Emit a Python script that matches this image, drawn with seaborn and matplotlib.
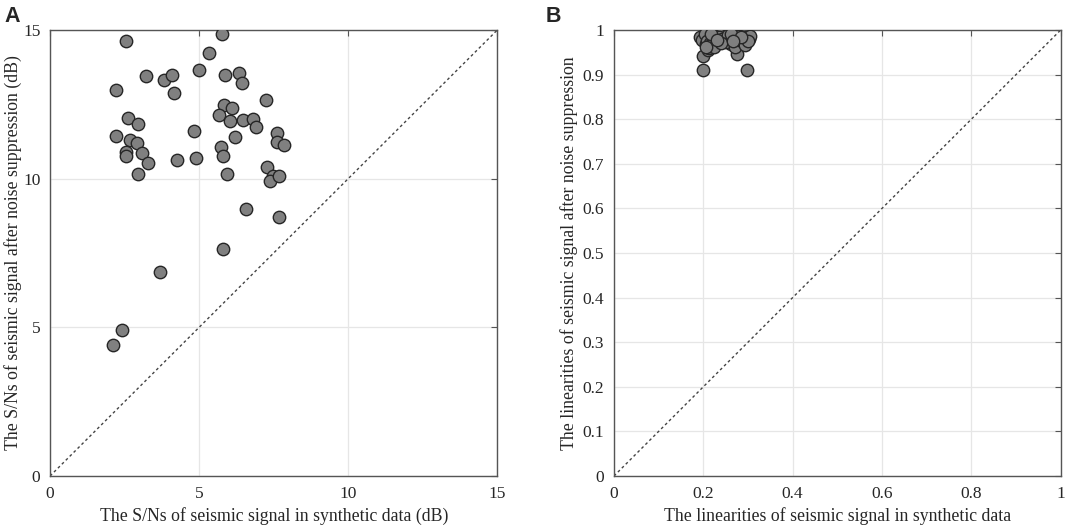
import matplotlib
matplotlib.use("Agg")
import matplotlib.pyplot as plt
import seaborn as sns
import numpy as np

# Panel A: S/N (dB) in synthetic data vs after noise suppression
snr_in = [2.56, 5.77, 5.32, 4.99, 3.23, 3.81, 4.10, 4.15, 2.21, 5.88,
          6.35, 6.43, 7.23, 5.84, 6.11, 5.66, 6.03, 6.47, 6.79, 6.89,
          7.60, 7.61, 7.86, 6.19, 5.72, 5.81, 5.93, 4.84, 4.89, 4.25,
          2.63, 2.96, 2.21, 2.68, 2.90, 2.54, 2.54, 3.09, 3.29, 2.94,
          7.27, 7.46, 7.38, 7.67, 6.57, 7.68, 5.81, 3.70, 2.40, 2.10]
snr_out = [14.62, 14.87, 14.23, 13.65, 13.44, 13.30, 13.48, 12.87, 12.97, 13.47,
           13.54, 13.22, 12.64, 12.48, 12.38, 12.15, 11.93, 11.98, 11.99, 11.73,
           11.55, 11.24, 11.12, 11.39, 11.07, 10.76, 10.17, 11.61, 10.70, 10.61,
           12.05, 11.83, 11.44, 11.31, 11.21, 10.89, 10.77, 10.86, 10.52, 10.16,
           10.38, 10.08, 9.91, 10.08, 8.98, 8.70, 7.62, 6.85, 4.90, 4.40]

# Panel B: linearity in synthetic data vs after noise suppression
lin_in = [0.200, 0.298, 0.200, 0.275, 0.210, 0.192, 0.198, 0.205, 0.212, 0.218,
          0.222, 0.228, 0.232, 0.238, 0.245, 0.252, 0.258, 0.262, 0.268, 0.272,
          0.278, 0.284, 0.290, 0.296, 0.302, 0.305, 0.203, 0.208, 0.215, 0.220,
          0.226, 0.235, 0.242, 0.250, 0.256, 0.265, 0.270, 0.280, 0.288, 0.294,
          0.300, 0.212, 0.224, 0.240, 0.262, 0.285, 0.218, 0.230, 0.205, 0.266]
lin_out = [0.910, 0.910, 0.942, 0.946, 0.955, 0.985, 0.978, 0.968, 0.960, 0.975,
           0.985, 0.980, 0.972, 0.988, 0.983, 0.976, 0.980, 0.968, 0.985, 0.990,
           0.978, 0.983, 0.975, 0.985, 0.980, 0.987, 0.990, 0.975, 0.970, 0.988,
           0.978, 0.985, 0.980, 0.973, 0.988, 0.980, 0.962, 0.987, 0.972, 0.967,
           0.975, 0.965, 0.962, 0.970, 0.990, 0.985, 0.990, 0.978, 0.962, 0.975]

ticks_a = [0, 5, 10, 15]
ticks_bx = [0, 0.2, 0.4, 0.6, 0.8, 1.0]
ticklabels_bx = ['0', '0.2', '0.4', '0.6', '0.8', '1']
ticks_by = [0, 0.1, 0.2, 0.3, 0.4, 0.5, 0.6, 0.7, 0.8, 0.9, 1.0]
ticklabels_by = ['0', '0.1', '0.2', '0.3', '0.4', '0.5', '0.6', '0.7', '0.8', '0.9', '1']

sns.set_style("white")
plt.rcParams['font.family'] = ['Liberation Serif', 'DejaVu Serif']

fig = plt.figure(figsize=(10.65, 5.31), dpi=100)
axA = fig.add_axes([0.047, 0.1036, 0.420, 0.840])
axB = fig.add_axes([0.5765, 0.1036, 0.4195, 0.840])

spine_col = '#555555'
grid_col = '#e6e6e6'
pt_kw = dict(s=80, color='#808080', edgecolor='#262626', linewidth=1.0, zorder=3)


def style_axis(ax, lim, xticks, xlabels, yticks, ylabels, xlabel, ylabel, ylab_x):
    ax.set_xlim(lim)
    ax.set_ylim(lim)
    ax.set_xticks(xticks)
    ax.set_yticks(yticks)
    ax.set_xticklabels(xlabels)
    ax.set_yticklabels(ylabels)
    ax.grid(True, color=grid_col, linewidth=0.9)
    ax.set_axisbelow(True)
    for sp in ax.spines.values():
        sp.set_color(spine_col)
        sp.set_linewidth(1.0)
    ax.tick_params(direction='in', length=4, color=spine_col, labelsize=12.5,
                   top=True, right=True, pad=7)
    ax.set_xlabel(xlabel, fontsize=12.8, labelpad=4)
    ax.set_ylabel(ylabel, fontsize=12.8, va='center')
    ax.yaxis.set_label_coords(ylab_x, 0.5)
    ax.axline((0, 0), slope=1, color='#444444', linestyle=(0, (2, 2)),
              linewidth=1.0, zorder=2)


sns.scatterplot(x=snr_in, y=snr_out, ax=axA, **pt_kw)
style_axis(axA, (0, 15), ticks_a, ['0', '5', '10', '15'],
           ticks_a, ['0', '5', '10', '15'],
           'The S/Ns of seismic signal in synthetic data (dB)',
           'The S/Ns of seismic signal after noise suppression (dB)', -0.083)

sns.scatterplot(x=lin_in, y=lin_out, ax=axB, **pt_kw)
style_axis(axB, (0, 1), ticks_bx, ticklabels_bx, ticks_by, ticklabels_by,
           'The linearities of seismic signal in synthetic data',
           'The linearities of seismic signal after noise suppression', -0.1)

fig.text(0.004, 0.958, 'A', fontsize=15.5, fontweight='bold',
         family=['Liberation Sans', 'DejaVu Sans'])
fig.text(0.512, 0.958, 'B', fontsize=15.5, fontweight='bold',
         family=['Liberation Sans', 'DejaVu Sans'])

fig.savefig('out.png', dpi=100)
